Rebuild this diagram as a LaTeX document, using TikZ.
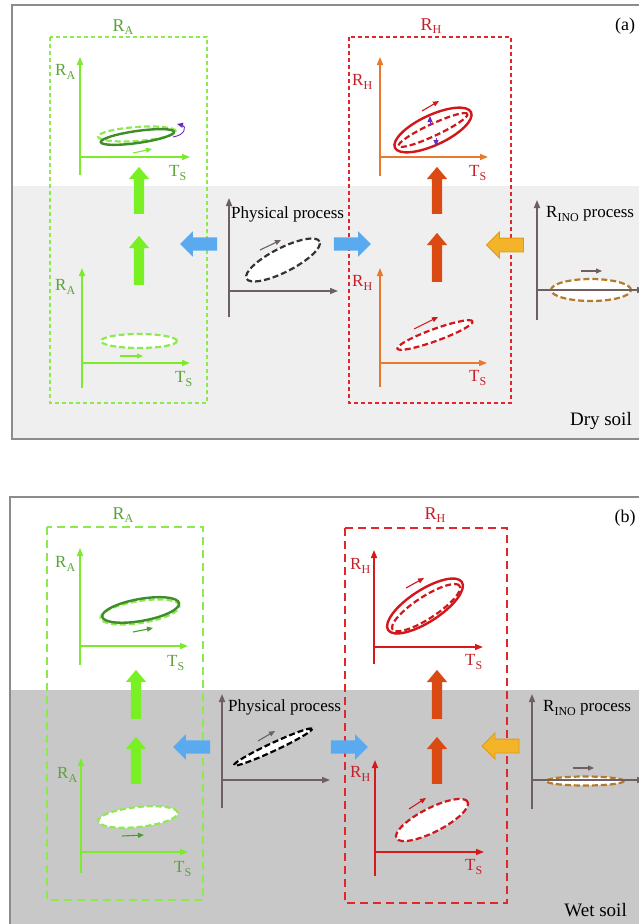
\documentclass[tikz,border=0pt]{standalone}
\usepackage{fontspec}
\setmainfont{Liberation Serif}
\usetikzlibrary{arrows.meta,shapes.arrows}

\definecolor{axgreen}{HTML}{7CEB2C}
\definecolor{boxgreen}{HTML}{8CEB4A}
\definecolor{palegreen}{HTML}{8EEA4E}
\definecolor{darkgreen}{HTML}{3E8C2A}
\definecolor{txtgreen}{HTML}{5AA23A}
\definecolor{thickgreen}{HTML}{78F024}
\definecolor{boxred}{HTML}{E0282C}
\definecolor{txtred}{HTML}{C41E28}
\definecolor{ellred}{HTML}{D2161A}
\definecolor{axorange}{HTML}{E8782C}
\definecolor{axred}{HTML}{D61A1A}
\definecolor{thickorange}{HTML}{DC4A14}
\definecolor{flowblue}{HTML}{5AAAF0}
\definecolor{flowyellow}{HTML}{F4B42A}
\definecolor{edgeyellow}{HTML}{DC9A18}
\definecolor{axgray}{HTML}{6E6060}
\definecolor{ellbrown}{HTML}{B47A2C}
\definecolor{loopviolet}{HTML}{6A2AC8}
\definecolor{drybg}{HTML}{EFEFEF}
\definecolor{wetbg}{HTML}{C8C8C8}
\definecolor{framegray}{HTML}{8C8C8C}

\newcommand{\lowsub}[1]{\raisebox{-0.45ex}{\fontsize{12}{12}\selectfont #1}}
% name, x, y top, y origin, y bottom, x right, colour
\newcommand{\plotaxes}[7]{%
  \coordinate (#1-t) at (#2,#3);
  \coordinate (#1-o) at (#2,#4);
  \coordinate (#1-b) at (#2,#5);
  \coordinate (#1-r) at (#6,#4);
  \draw[axisline,#7] (#1-b) -- (#1-t);
  \draw[axisline,#7] (#1-o) -- (#1-r);
}

\tikzset{
  panelframe/.style={draw=framegray, line width=1.5pt},
  axisline/.style={line width=1.5pt, -{Triangle[length=8pt,width=6pt]}},
  lbl/.style={font=\fontsize{17}{19}\selectfont, inner sep=0pt, anchor=west},
  title/.style={font=\fontsize{18}{20}\selectfont, inner sep=0pt},
  soil/.style={font=\fontsize{19}{21}\selectfont, inner sep=0pt, anchor=east},
  thinbox/.style={line width=1.2pt, dash pattern=on 4pt off 3pt},
  thickbox/.style={line width=1.8pt, dash pattern=on 8pt off 5pt},
  dashell/.style={line width=2.2pt, dash pattern=on 6pt off 3pt},
  solidell/.style={line width=2.4pt},
  turn/.style={line width=1.1pt, -{Triangle[length=6pt,width=5pt]}},
  uparrow/.style={single arrow, fill=#1, draw=none, inner sep=5pt,
    minimum width=20pt, single arrow head extend=5pt,
    single arrow tip angle=80, shape border rotate=90},
  sidearrow/.style={single arrow, fill=#1, draw=none, inner sep=6.5pt,
    minimum width=25pt, minimum height=37pt, single arrow head extend=6pt,
    single arrow tip angle=90},
}

\begin{document}
\begin{tikzpicture}[x=1pt,y=-1pt]
\useasboundingbox (0,0) rectangle (639,924);
\clip (0,0) rectangle (639,924);

% ---------------- panel (a): dry soil
\fill[drybg] (12,186) rectangle (660,439);
\draw[panelframe] (12,5) rectangle (660,439);
\draw[thinbox, draw=boxgreen] (50,37) rectangle (207,403);
\draw[thinbox, draw=boxred] (349,37) rectangle (511,403);
\node[title, text=txtgreen] (ra-a) at (123,27) {R\lowsub{A}};
\node[title, text=txtred] (rh-a) at (431,26) {R\lowsub{H}};
\node[title] (tag-a) at (625,26) {(a)};
\node[soil] (dry) at (632,421) {Dry soil};

% R_A, top and bottom
\plotaxes{aA1}{80}{57}{157}{175}{190}{axgreen}
\node[lbl, text=txtgreen] at (55,72) {R\lowsub{A}};
\node[lbl, text=txtgreen] at (169,173) {T\lowsub{S}};
\coordinate (ea1) at (137,134);
\draw[dashell, palegreen, rotate around={4:(ea1)}] (ea1) ellipse (39pt and 7pt);
\draw[solidell, darkgreen, rotate around={8:(ea1)}] ([yshift=-3pt]ea1) ellipse (37pt and 6pt);
\coordinate (sa1) at (133,153); \coordinate (sa2) at (152,149);
\draw[turn, axgreen] (sa1) -- (sa2);
\coordinate (va1) at (173,137); \coordinate (va2) at (177,124);
\draw[turn, loopviolet, line width=0.9pt] (va1) .. controls (186,135) and (186,126) .. (va2);

\node[uparrow=thickgreen, minimum height=47pt] (ga1) at (139,193.5) {};
\node[uparrow=thickgreen, minimum height=49pt] (ga2) at (139,263.5) {};

\plotaxes{aA2}{82}{268}{363}{388}{190}{axgreen}
\node[lbl, text=txtgreen] at (55,287) {R\lowsub{A}};
\node[lbl, text=txtgreen] at (175,379) {T\lowsub{S}};
\coordinate (ea2) at (139,341);
\draw[dashell, palegreen, fill=white] (ea2) ellipse (38pt and 7pt);
\coordinate (sb1) at (120,356); \coordinate (sb2) at (143,356);
\draw[turn, axgreen] (sb1) -- (sb2);

% physical process
\node[sidearrow=flowblue, shape border rotate=180] (ba1) at (202,244) {};
\node[sidearrow=flowblue] (ba2) at (349,244) {};
\plotaxes{aP}{229}{198}{291}{317}{338}{axgray}
\node[lbl] at (231,214) {Physical process};
\coordinate (ep1) at (283,260);
\draw[dashell, black!80, fill=white, rotate around={27:(ep1)}] (ep1) ellipse (41pt and 12pt);
\coordinate (sp1) at (260,250); \coordinate (sp2) at (281,240);
\draw[turn, axgray] (sp1) -- (sp2);

% R_H, top and bottom
\plotaxes{aH1}{380}{57}{157}{176}{488}{axorange}
\node[lbl, text=txtred] at (352,82) {R\lowsub{H}};
\node[lbl, text=txtred] at (469,173) {T\lowsub{S}};
\coordinate (eh1) at (433,130);
\draw[solidell, ellred, rotate around={25:(eh1)}] (eh1) ellipse (42pt and 15pt);
\draw[dashell, ellred, rotate around={25:(eh1)}] (eh1) ellipse (38pt and 6pt);
\coordinate (sh1) at (422,111); \coordinate (sh2) at (439,101);
\draw[turn, ellred] (sh1) -- (sh2);
\coordinate (vh1) at (430,125); \coordinate (vh2) at (430,116);
\coordinate (vh3) at (436,138); \coordinate (vh4) at (436,146);
\draw[turn, loopviolet, line width=0.8pt] (vh1) -- (vh2);
\draw[turn, loopviolet, line width=0.8pt] (vh3) -- (vh4);

\node[uparrow=thickorange, minimum height=47pt] (oa1) at (437,193.5) {};
\node[uparrow=thickorange, minimum height=49pt] (oa2) at (437,260.5) {};

\plotaxes{aH2}{380}{268}{363}{387}{487}{axorange}
\node[lbl, text=txtred] at (352,283) {R\lowsub{H}};
\node[lbl, text=txtred] at (469,378) {T\lowsub{S}};
\coordinate (eh2) at (435,335);
\draw[dashell, ellred, fill=white, rotate around={20:(eh2)}] (eh2) ellipse (40pt and 6pt);
\coordinate (si1) at (414,329); \coordinate (si2) at (438,317);
\draw[turn, ellred] (si1) -- (si2);

% R_INO process
\node[sidearrow=flowyellow, draw=edgeyellow, line width=0.8pt, shape border rotate=180] (ya) at (508.5,245) {};
\coordinate (en1) at (591,290);
\draw[dashell, ellbrown, fill=white] (en1) ellipse (40pt and 11pt);
\plotaxes{aN}{537}{200}{290}{320}{645}{axgray}
\node[lbl] at (546,214) {R\lowsub{INO} process};
\coordinate (sn1) at (581,271); \coordinate (sn2) at (602,271);
\draw[turn, axgray] (sn1) -- (sn2);

% ---------------- panel (b): wet soil
\fill[wetbg] (10,690) rectangle (660,940);
\draw[panelframe] (10,497) rectangle (660,940);
\draw[thickbox, draw=boxgreen] (47,527) rectangle (203,900);
\draw[thickbox, draw=boxred] (345,528) rectangle (507,903);
\node[title, text=txtgreen] (ra-b) at (123,515) {R\lowsub{A}};
\node[title, text=txtred] (rh-b) at (435,515) {R\lowsub{H}};
\node[title] (tag-b) at (625,518) {(b)};
\node[soil] (wet) at (627,910) {Wet soil};

% R_A, top and bottom
\plotaxes{bA1}{80}{548}{646}{665}{188}{axgreen}
\node[lbl, text=txtgreen] at (55,564) {R\lowsub{A}};
\node[lbl, text=txtgreen] at (167,663) {T\lowsub{S}};
\coordinate (fa1) at (140,612);
\draw[dashell, palegreen, rotate around={9:(fa1)}] (fa1) ellipse (40pt and 11pt);
\draw[solidell, darkgreen, rotate around={10:(fa1)}] ([xshift=1pt,yshift=2pt]fa1) ellipse (39pt and 11pt);
\coordinate (ta1) at (133,632); \coordinate (ta2) at (153,628);
\draw[turn, darkgreen!80!axgreen] (ta1) -- (ta2);

\node[uparrow=thickgreen, minimum height=49pt] (gb1) at (136,697.5) {};
\node[uparrow=thickgreen, minimum height=47pt] (gb2) at (136,763.5) {};

\plotaxes{bA2}{81}{758}{852}{873}{188}{axgreen}
\node[lbl, text=txtgreen] at (57,775) {R\lowsub{A}};
\node[lbl, text=txtgreen] at (174,869) {T\lowsub{S}};
\coordinate (fa2) at (138,817);
\draw[dashell, palegreen, fill=white, rotate around={6:(fa2)}] (fa2) ellipse (40pt and 10pt);
\coordinate (tb1) at (122,836); \coordinate (tb2) at (144,835);
\draw[turn, darkgreen!80!axgreen] (tb1) -- (tb2);

% physical process
\node[sidearrow=flowblue, shape border rotate=180] (bb1) at (195,747) {};
\node[sidearrow=flowblue] (bb2) at (346,747) {};
\plotaxes{bP}{222}{694}{780}{808}{330}{axgray}
\node[lbl] at (228,707) {Physical process};
\coordinate (fp1) at (273,747);
\draw[dashell, black, fill=white, rotate around={25:(fp1)}] (fp1) ellipse (43pt and 4pt);
\coordinate (tp1) at (258,741); \coordinate (tp2) at (275,731);
\draw[turn, axgray] (tp1) -- (tp2);

% R_H, top and bottom
\plotaxes{bH1}{374}{550}{647}{664}{483}{axred}
\node[lbl, text=txtred] at (350,566) {R\lowsub{H}};
\node[lbl, text=txtred] at (465,662) {T\lowsub{S}};
\coordinate (fh1) at (425,606);
\draw[solidell, ellred, rotate around={33:(fh1)}] (fh1) ellipse (44pt and 16pt);
\draw[dashell, ellred, rotate around={33:(fh1)}] ([yshift=-2pt]fh1) ellipse (40pt and 11pt);
\coordinate (th1) at (406,588); \coordinate (th2) at (424,578);
\draw[turn, ellred] (th1) -- (th2);

\node[uparrow=thickorange, minimum height=49pt] (ob1) at (437,697.5) {};
\node[uparrow=thickorange, minimum height=47pt] (ob2) at (437,763.5) {};

\plotaxes{bH2}{375}{760}{852}{876}{484}{axred}
\node[lbl, text=txtred] at (350,774) {R\lowsub{H}};
\node[lbl, text=txtred] at (465,867) {T\lowsub{S}};
\coordinate (fh2) at (432,820);
\draw[dashell, ellred, fill=white, rotate around={27:(fh2)}] (fh2) ellipse (40pt and 12pt);
\coordinate (ti1) at (409,809); \coordinate (ti2) at (426,798);
\draw[turn, ellred] (ti1) -- (ti2);

% R_INO process
\node[sidearrow=flowyellow, draw=edgeyellow, line width=0.8pt, shape border rotate=180] (yb) at (504,746) {};
\coordinate (fn1) at (585,781);
\draw[dashell, ellbrown, fill=white] (fn1) ellipse (39pt and 4.5pt);
\plotaxes{bN}{532}{694}{780}{809}{645}{axgray}
\node[lbl] at (543,708) {R\lowsub{INO} process};
\coordinate (tn1) at (573,768); \coordinate (tn2) at (594,768);
\draw[turn, axgray] (tn1) -- (tn2);
\end{tikzpicture}
\end{document}
